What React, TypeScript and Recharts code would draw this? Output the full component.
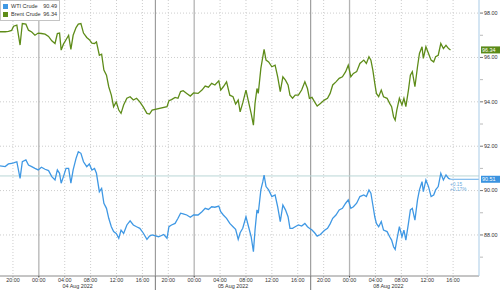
import { CartesianGrid, Legend, Line, LineChart, ReferenceLine, XAxis, YAxis } from "recharts";

// hours since 18:00 on 03 Aug (the weekend is left out, as on the terminal chart)
const hours = [
  0, 0.8, 1.3, 1.8, 2.1, 2.6, 3.1, 3.45, 4.0, 4.4,
  4.9, 5.4, 5.9, 6.4, 6.96, 7.5, 8.0, 8.5, 8.86, 9.2,
  9.45, 9.8, 10.2, 10.6, 10.95, 11.3, 11.75, 12.1, 12.5, 12.9,
  13.4, 13.8, 14.2, 14.6, 14.9, 15.35, 15.7, 16.05, 16.45, 16.8,
  17.2, 17.55, 17.95, 18.35, 18.7, 19.1, 19.6, 20.1, 20.6, 21.1,
  21.6, 22.1, 22.7, 23.1, 23.5, 24.5, 25.3, 25.8, 26.1, 26.5,
  27.05, 27.5, 27.9, 28.3, 28.85, 29.4, 29.9, 30.6, 31.2, 31.7,
  32.2, 32.7, 33.2, 33.8, 34.1, 34.5, 35.0, 35.5, 36.0, 36.4,
  36.8, 37.1, 37.5, 38.0, 38.4, 38.8, 39.15, 39.4, 39.7, 39.9,
  40.3, 40.6, 40.8, 41.1, 41.5, 42.0, 42.5, 42.9, 43.3, 43.7,
  44.1, 44.5, 44.8, 45.2, 45.6, 46.1, 46.6, 47.1, 47.5, 47.8,
  48.2, 48.6, 49.0, 49.5, 50.1, 50.6, 51.0, 51.4, 51.9, 52.4,
  52.9, 53.4, 53.8, 54.2, 54.6, 55.1, 55.6, 56.2, 56.6, 57.0,
  57.3, 57.6, 57.9, 58.15, 58.5, 58.9, 59.25, 59.8, 60.2, 60.5,
  60.8, 61.05, 61.3, 61.7, 62.1, 62.4, 62.7, 63.1, 63.4, 63.7,
  64.1, 64.5, 64.8, 65.2, 65.4, 65.8, 66.2, 66.6, 67.0, 67.3,
  67.7, 68.1, 68.5, 68.9, 69.3, 69.6,
];

const brent = [
  97.16, 97.16, 97.18, 97.22, 97.41, 97.46, 96.56, 97.53, 97.5, 97.23,
  97.15, 97.0, 97.1, 97.08, 97.05, 96.95, 96.75, 96.63, 97.08, 97.1,
  96.33, 96.6, 96.8, 97.0, 96.36, 97.0, 97.35, 97.5, 97.53, 97.1,
  96.9, 96.8, 96.65, 96.63, 96.7, 96.1, 96.15, 95.43, 95.2, 94.68,
  94.3, 93.78, 94.0, 93.63, 93.48, 93.86, 94.16, 94.23, 94.08, 94.16,
  94.0, 93.78, 93.48, 93.45, 93.63, null, null, 93.78, 94.05, 94.1,
  94.2, 94.16, 94.46, 94.5, 94.38, 94.26, 94.4, 94.38, 94.53, 94.71,
  94.66, 94.83, 94.76, 94.95, 94.53, 94.68, 94.9, 94.3, 94.23, 93.9,
  94.08, 93.55, 93.95, 94.53, 94.0, 93.48, 92.95, 93.93, 94.6, 94.38,
  95.51, 96.03, 96.36, 95.88, 95.8, 95.58, 95.65, 95.13, 94.46, 95.13,
  94.98, 94.76, 94.3, 94.16, 94.3, 94.3, 94.53, 94.9, 94.6, 94.16,
  94.2, 94.0, 93.81, 93.93, 94.08, 94.16, 94.38, 94.76, 94.9, 95.06,
  95.13, 95.36, 95.65, 95.13, 95.28, 95.36, 95.73, 95.88, 95.73, 96.03,
  95.88, 95.43, 94.83, 94.38, 94.23, 94.53, 94.23, 94.16, 93.93, 93.78,
  93.33, 93.18, 93.63, 94.16, 93.86, 94.16, 93.78, 94.53, 95.2, 95.36,
  94.68, 95.58, 96.18, 96.48, 95.96, 96.48, 96.18, 95.88, 95.8, 96.03,
  96.1, 96.63, 96.4, 96.55, 96.4, 96.34,
];

const wti = [
  91.11, 91.08, 91.2, 91.23, 91.25, 91.3, 90.55, 91.3, 91.38, 91.15,
  91.08, 91.0, 90.93, 91.05, 90.96, 90.9, 90.63, 90.48, 90.93, 90.78,
  90.33, 90.63, 91.0, 91.0, 90.33, 90.93, 91.45, 91.75, 91.68, 91.3,
  91.08, 91.2, 90.93, 91.0, 90.78, 89.95, 90.1, 89.43, 89.2, 88.75,
  88.37, 88.15, 88.07, 87.85, 88.22, 88.07, 88.45, 88.64, 88.45, 88.37,
  88.3, 88.1, 87.8, 87.95, 88.0, 87.92, 88.02, 87.85, 88.37, 88.45,
  88.52, 88.75, 88.98, 88.95, 88.9, 88.8, 88.9, 88.9, 89.05, 89.2,
  89.15, 89.27, 89.25, 89.3, 89.05, 88.9, 88.75, 88.52, 88.37, 88.25,
  87.8, 88.1, 88.3, 88.82, 88.37, 87.92, 87.25, 88.22, 89.13, 88.98,
  90.03, 90.4, 90.7, 90.18, 90.03, 89.73, 89.8, 89.27, 88.6, 89.35,
  89.13, 88.82, 88.3, 88.3, 88.37, 88.45, 88.4, 88.52, 88.37, 88.3,
  88.22, 88.1, 87.95, 88.02, 88.2, 88.3, 88.5, 88.75, 88.9, 89.13,
  89.2, 89.43, 89.58, 89.2, 89.27, 89.43, 89.73, 89.8, 89.73, 90.03,
  89.88, 89.35, 88.82, 88.52, 88.37, 88.6, 88.22, 88.15, 87.92, 87.77,
  87.47, 87.35, 87.77, 88.37, 87.92, 88.22, 87.77, 88.52, 89.13, 89.2,
  88.67, 89.58, 90.03, 90.4, 89.95, 90.48, 90.18, 89.73, 89.8, 90.03,
  90.18, 90.78, 90.48, 90.7, 90.55, 90.51,
];

const hourTicks = [2, 6, 10, 14, 18, 22, 26, 30, 34, 38, 42, 46, 50, 54, 58, 62, 66, 70];
const midnightTicks = [6, 30, 54];
const sessionBreaks = [24, 48];
const dayTicks = [12, 36, 60];
const dayNames = ["04 Aug 2022", "05 Aug 2022", "08 Aug 2022"];
const priceTicks = [87, 88, 89, 90, 91, 92, 93, 94, 95, 96, 97, 98];
const gridPrices = [88, 90, 92, 94, 96, 98];

const seriesNames = ["WTI Crude", "Brent Crude"];
const legendValues = ["90.49", "96.34"];
const lastWti = 90.51;
const lastBrent = 96.34;
const wtiPrevClose = 90.66;
const wtiChange = ["+0.15", "+0.17%"];

const WTI_COLOR = "#3f98e4";
const BRENT_COLOR = "#5e8c19";
const FONT = "'Liberation Sans', Arial, sans-serif";

const data = hours.map((h, i) => ({ h, brent: brent[i], wti: wti[i] }));
const axisTicks = [...hourTicks, ...dayTicks, ...sessionBreaks].sort((a, b) => a - b);

function hourLabel(t: number) {
  const hh = (18 + t) % 24;
  return `${String(hh).padStart(2, "0")}:00`;
}

function TimeTick({ x, y, payload }: any) {
  const t = payload.value;
  if (sessionBreaks.includes(t)) {
    return <line x1={x} x2={x} y1={y} y2={y + 14} stroke="#777" />;
  }
  const day = dayTicks.indexOf(t);
  if (day >= 0) {
    return (
      <text x={x} y={y + 8} dy="0.75em" textAnchor="middle" fontSize={5.4} fill="#333" fontFamily={FONT}>
        {dayNames[day]}
      </text>
    );
  }
  return (
    <g>
      <line x1={x} x2={x} y1={y} y2={y + 1.5} stroke={midnightTicks.includes(t) ? "#444" : "#999"} />
      <text x={x} y={y + 2} dy="0.75em" textAnchor="middle" fontSize={5.4} fill="#333" fontFamily={FONT}>
        {hourLabel(t)}
      </text>
    </g>
  );
}

function PriceTick({ x, y, payload }: any) {
  const major = payload.value % 2 === 0;
  return (
    <g>
      <line x1={x - 3} x2={x} y1={y} y2={y} stroke={major ? "#777" : "#bbb"} />
      {major && (
        <text x={x + 1} y={y} dy="0.35em" fontSize={5.4} fill="#333" fontFamily={FONT}>
          {payload.value.toFixed(2)}
        </text>
      )}
    </g>
  );
}

function PriceTag({ viewBox, value, fill, change }: any) {
  const right = viewBox.x + viewBox.width;
  return (
    <g fontFamily={FONT}>
      <rect x={right + 2} y={viewBox.y - 3.5} width={19} height={7} fill={fill} />
      <text x={right + 3} y={viewBox.y} dy="0.36em" fontSize={5.4} fill="#fff">
        {value.toFixed(2)}
      </text>
      {change &&
        change.map((c: string, i: number) => (
          <text key={c} x={right - 29} y={viewBox.y + 5 + i * 5.5} dy="0.35em" fontSize={4.8} fill="#6aa9dc">
            {c}
          </text>
        ))}
    </g>
  );
}

function LegendBox() {
  const colors = [WTI_COLOR, BRENT_COLOR];
  return (
    <div
      style={{
        background: "#fff",
        border: "1px solid #c4c4c4",
        padding: "1px 2px 2px 2px",
        fontFamily: FONT,
        fontSize: 5.5,
        lineHeight: "8px",
        width: 54,
        color: "#333",
      }}
    >
      {seriesNames.map((name, i) => (
        <div key={name} style={{ display: "flex", alignItems: "center" }}>
          <span style={{ width: 5, height: 5, background: colors[i], marginRight: 3, display: "inline-block" }} />
          <span>{name}</span>
          <span style={{ marginLeft: "auto" }}>{legendValues[i]}</span>
        </div>
      ))}
    </div>
  );
}

export default function App() {
  return (
    <div style={{ position: "fixed", left: 0, top: 0, background: "#fff" }}>
      <LineChart width={500} height={290} data={data} margin={{ top: 0, right: 0, bottom: 0, left: 0 }}>
        <CartesianGrid
          stroke="#cdcdcd"
          strokeDasharray="1 2"
          horizontalValues={gridPrices}
          verticalValues={hourTicks.filter((t) => !midnightTicks.includes(t))}
        />
        <XAxis
          dataKey="h"
          type="number"
          domain={[0, 74]}
          ticks={axisTicks}
          height={14}
          tickSize={0}
          tickMargin={0}
          interval={0}
          tickLine={false}
          stroke="#8a8a8a"
          tick={<TimeTick />}
        />
        <YAxis
          orientation="right"
          domain={[86.15, 98.59]}
          ticks={priceTicks}
          width={21}
          interval={0}
          tickSize={3}
          tickMargin={1}
          tickLine={false}
          stroke="#a9cbe6"
          tick={<PriceTick />}
        />
        {midnightTicks.map((t) => (
          <ReferenceLine key={t} x={t} stroke="#b4b4b4" strokeWidth={1.3} />
        ))}
        {sessionBreaks.map((t) => (
          <ReferenceLine key={t} x={t} stroke="#8c8c8c" />
        ))}
        <ReferenceLine y={wtiPrevClose} stroke="#b9d6d6" />
        <Line
          dataKey="brent"
          name={seriesNames[1]}
          stroke={BRENT_COLOR}
          strokeWidth={1.3}
          dot={false}
          activeDot={false}
          connectNulls
          type="linear"
          isAnimationActive={false}
        />
        <Line
          dataKey="wti"
          name={seriesNames[0]}
          stroke={WTI_COLOR}
          strokeWidth={1.3}
          dot={false}
          activeDot={false}
          type="linear"
          isAnimationActive={false}
        />
        <ReferenceLine
          segment={[
            { x: hours[hours.length - 1], y: lastWti },
            { x: 74, y: lastWti },
          ]}
          stroke={WTI_COLOR}
          strokeWidth={0.8}
          label={<PriceTag value={lastWti} fill="#3a93e0" change={wtiChange} />}
        />
        <ReferenceLine y={lastBrent} stroke="none" label={<PriceTag value={lastBrent} fill="#5a8a17" />} />
        <Legend
          layout="horizontal"
          verticalAlign="middle"
          align="center"
          wrapperStyle={{ top: 0, left: 0, width: "auto" }}
          content={<LegendBox />}
        />
      </LineChart>
    </div>
  );
}
